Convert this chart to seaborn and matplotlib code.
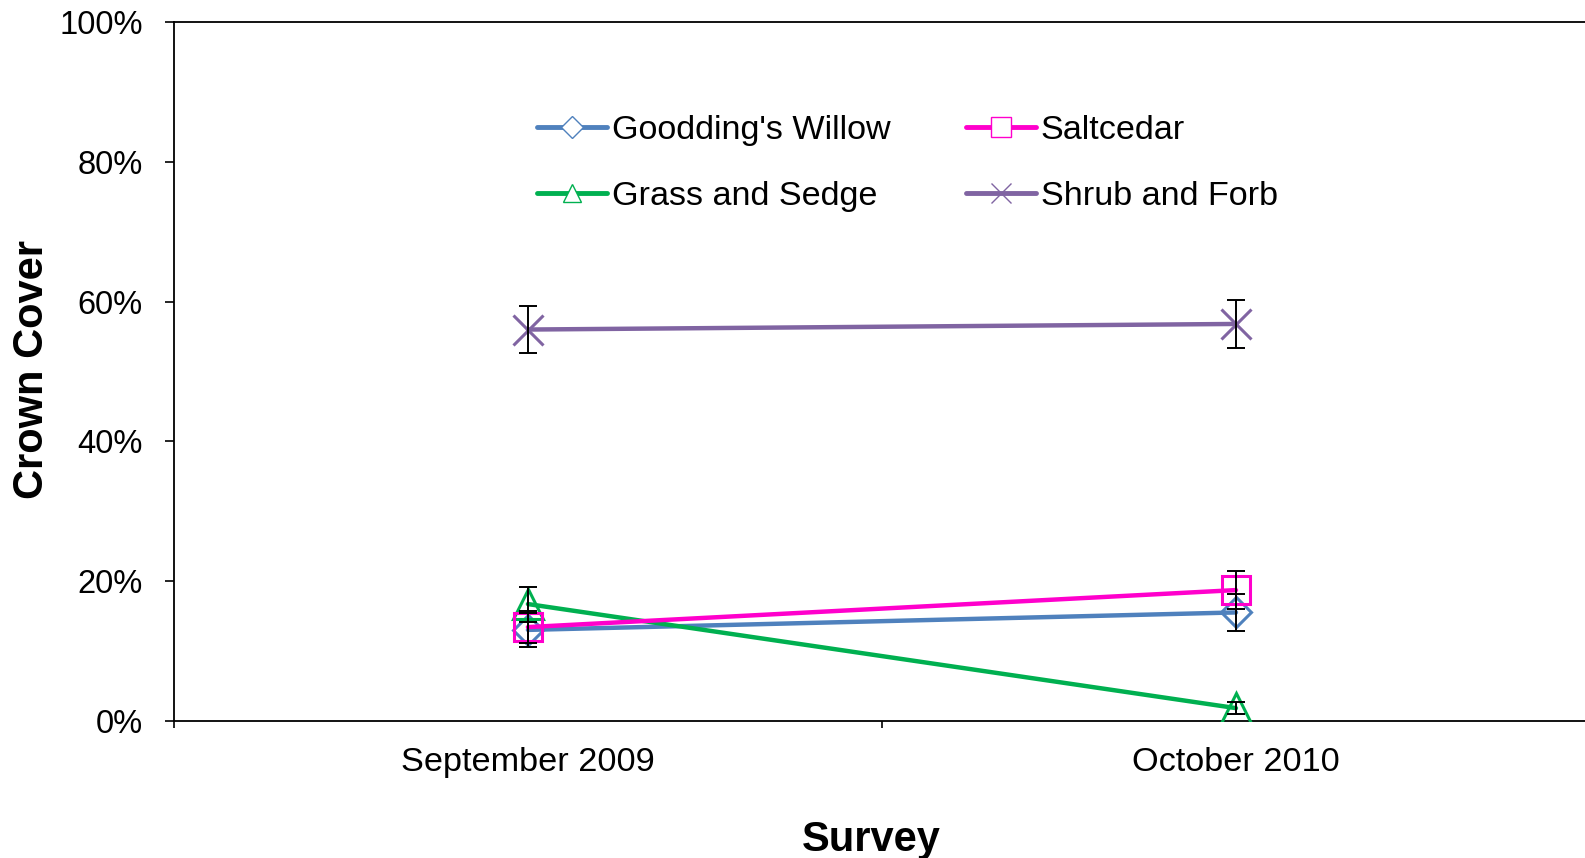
import numpy as np
import pandas as pd
import matplotlib
matplotlib.use("Agg")
import matplotlib.pyplot as plt
from matplotlib.lines import Line2D
from matplotlib.ticker import PercentFormatter
import seaborn as sns

# Survey periods
surveys = ["September 2009", "October 2010"]

# Mean crown cover (%) and standard error for each vegetation group
willow_cover = [13.0, 15.5]
willow_se = [2.4, 2.6]
saltcedar_cover = [13.4, 18.7]
saltcedar_se = [2.3, 2.7]
grass_cover = [16.7, 1.8]
grass_se = [2.5, 0.9]
shrub_cover = [56.0, 56.8]
shrub_se = [3.4, 3.4]

series_names = ["Goodding's Willow", "Saltcedar", "Grass and Sedge", "Shrub and Forb"]

y_ticks = [0, 20, 40, 60, 80, 100]

sns.set_theme(style="white")
plt.rcParams["font.family"] = ["Liberation Sans", "DejaVu Sans"]
plt.rcParams["text.color"] = "black"

records = []
for name, cov, se in zip(series_names,
                         [willow_cover, saltcedar_cover, grass_cover, shrub_cover],
                         [willow_se, saltcedar_se, grass_se, shrub_se]):
    for s, c, e in zip(surveys, cov, se):
        records.append({"survey": s, "species": name, "cover": c, "se": e})
df = pd.DataFrame(records)

styles = {
    "Goodding's Willow": dict(color="#4F81BD", marker="D", ms=15, legend_ms=11),
    "Saltcedar": dict(color="#FF00CC", marker="s", ms=20, legend_ms=14),
    "Grass and Sedge": dict(color="#00B050", marker="^", ms=21, legend_ms=13),
    "Shrub and Forb": dict(color="#8064A2", marker="x", ms=22, legend_ms=15),
}
draw_order = ["Goodding's Willow", "Grass and Sedge", "Saltcedar", "Shrub and Forb"]

W, H = 1585, 858
fig = plt.figure(figsize=(W / 100, H / 100), dpi=100)
left_px, right_px, top_px, bottom_px = 173.9, 1590.0, 22.2, 720.7
ax = fig.add_axes([left_px / W, 1 - bottom_px / H,
                   (right_px - left_px) / W, (bottom_px - top_px) / H])

for i, name in enumerate(draw_order):
    st = styles[name]
    sub = df[df["species"] == name]
    sns.lineplot(data=sub, x="survey", y="cover", ax=ax, color=st["color"],
                 marker=st["marker"], markersize=st["ms"], mec=st["color"],
                 mfc="none", mew=2.2, lw=3.2, legend=False, zorder=2 + i,
                 errorbar=None)

for name in draw_order:
    sub = df[df["species"] == name]
    ax.errorbar(sub["survey"], sub["cover"], yerr=sub["se"], fmt="none",
                ecolor="black", elinewidth=1.4, capsize=6.5, capthick=1.4,
                zorder=10)

ax.set_xlim(-0.5, 1.5)
ax.set_ylim(0, 100)
ax.set_yticks(y_ticks)
ax.yaxis.set_major_formatter(PercentFormatter(decimals=0))
ax.set_xticks([-0.5, 0.5, 1.5], minor=True)
ax.tick_params(axis="x", which="major", length=0, pad=19, labelsize=24.7,
               labelcolor="black")
ax.tick_params(axis="x", which="minor", length=5, width=1.2, direction="out",
               color="black", bottom=True)
ax.tick_params(axis="y", which="major", length=6.5, width=1.2, direction="out",
               pad=16, labelsize=23.5, color="black", labelcolor="black", left=True)

for side in ["left", "bottom", "top", "right"]:
    ax.spines[side].set_color("black")
    ax.spines[side].set_linewidth(1.3)

ax.set_xlabel("Survey", fontsize=30, fontweight="bold", color="black")
ax.set_ylabel("Crown Cover", fontsize=30, fontweight="bold", color="black")
ax.xaxis.set_label_coords((871 - left_px) / (right_px - left_px), -0.142)
ax.yaxis.set_label_coords((52 - left_px) / (right_px - left_px), 0.503)

# Legend entries (column-first filling for a 2x2 grid)
legend_order = ["Goodding's Willow", "Grass and Sedge", "Saltcedar", "Shrub and Forb"]
handles = []
for name in legend_order:
    st = styles[name]
    handles.append(Line2D([0], [0], color=st["color"], lw=3.5, marker=st["marker"],
                          markersize=st["legend_ms"], mfc="white",
                          mec=st["color"], mew=1.0))
leg = fig.legend(handles, legend_order, ncol=2, loc="upper left",
                 bbox_to_anchor=(536.7 / W, 1 - 115 / H), frameon=False,
                 fontsize=24.6, borderpad=0, borderaxespad=0, handlelength=2.05,
                 handletextpad=0.15, columnspacing=2.2, labelspacing=1.03)
for t in leg.get_texts():
    t.set_color("black")

fig.savefig("out.png", dpi=100)
